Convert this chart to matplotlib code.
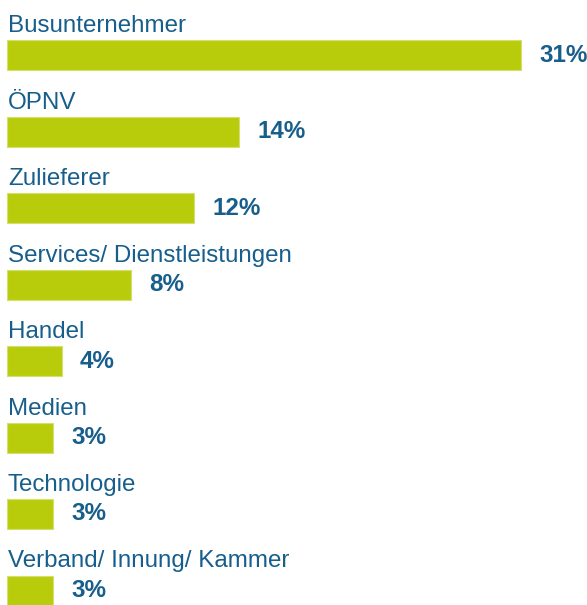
import matplotlib
matplotlib.use("Agg")
import matplotlib.pyplot as plt

# Branchen der Teilnehmer
categories = [
    "Busunternehmer",
    "ÖPNV",
    "Zulieferer",
    "Services/ Dienstleistungen",
    "Handel",
    "Medien",
    "Technologie",
    "Verband/ Innung/ Kammer",
]
values = [31, 14, 11.3, 7.5, 3.3, 2.8, 2.8, 2.8]
value_labels = ["31%", "14%", "12%", "8%", "4%", "3%", "3%", "3%"]

bar_color = "#b8cc0c"
text_color = "#175e8c"
plt.rcParams["font.family"] = ["Liberation Sans", "DejaVu Sans"]

fig = plt.figure(figsize=(5.87, 6.05), dpi=100)
ax = fig.add_axes([0, 0, 1, 1])
ax.axis("off")

px_x = 514 / 31      # pixels per percent
px_y = 76.5          # pixels per row
ax.set_xlim(-7 / px_x, 580 / px_x)
ax.set_ylim((605 - 55) / px_y, -55 / px_y)

rows = range(len(categories))
ax.barh(list(rows), values, height=30 / px_y, left=0, color=bar_color,
        edgecolor="#d3e070", linewidth=0.8)

for i, (cat, val, lab) in enumerate(zip(categories, values, value_labels)):
    ax.text(0.05, i - 15 / px_y - 8 / px_y, cat, fontsize=17.4,
            color=text_color, va="baseline", ha="left")
    ax.annotate(lab, (val, i), xytext=(18, 0), textcoords="offset pixels",
                fontsize=17.4, fontweight="bold", color=text_color,
                va="center", ha="left")

fig.savefig("out.png", dpi=100)
